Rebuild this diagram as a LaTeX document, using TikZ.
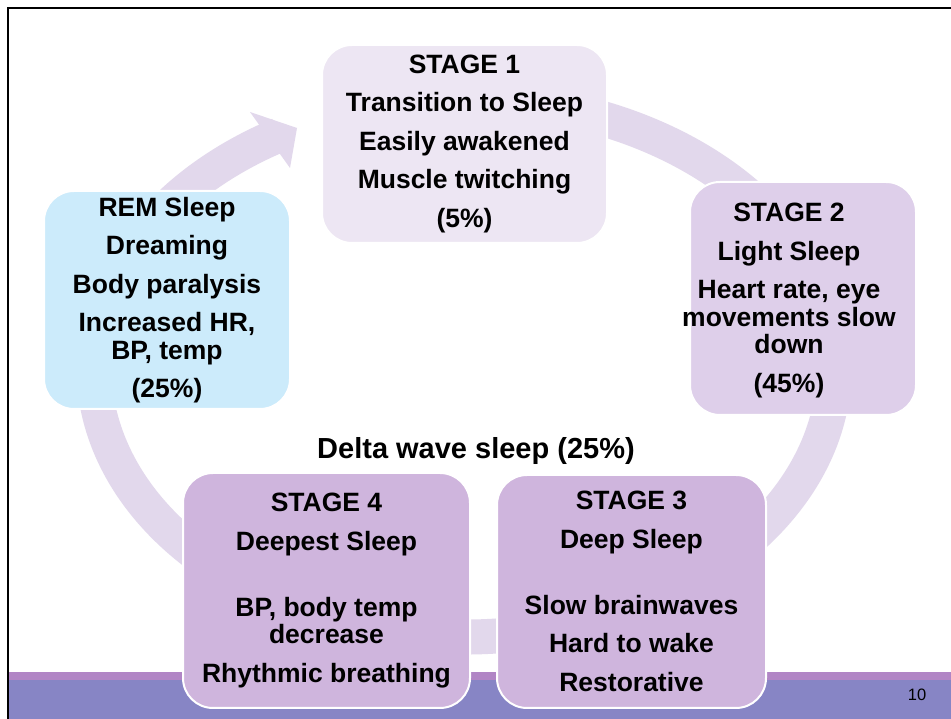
\documentclass[tikz,border=0pt]{standalone}
\usepackage{fontspec}
\setmainfont{Liberation Sans}
\definecolor{ringc}{RGB}{226,216,236}
\definecolor{sonec}{RGB}{237,230,243}
\definecolor{stwoc}{RGB}{222,207,234}
\definecolor{sdeepc}{RGB}{207,181,221}
\definecolor{remc}{RGB}{204,235,251}
\definecolor{barmain}{RGB}{135,133,197}
\definecolor{barstripe}{RGB}{177,133,197}
\begin{document}
\begin{tikzpicture}[x=1pt,y=1pt,
  boxtext/.style={align=center, font=\fontsize{26.5}{27.5}\selectfont\bfseries, inner sep=0pt},
  box/.style={boxtext, draw=white, line width=2pt, rounded corners=30pt}]
\useasboundingbox (0,0) rectangle (951,719);
\fill[white] (0,0) rectangle (951,719);
% cycle ring with arrow
\draw[ringc, line width=35pt] (464,351) ++(105:370 and 269)
  arc[start angle=105, end angle=-240, x radius=370, y radius=269];
\fill[ringc] (297,591) -- (250,607) -- (290,551) -- cycle;
% bottom bar
\fill[barmain] (9,0) rectangle (951,39);
\fill[barstripe] (9,39) rectangle (951,47);
% slide border
\draw[black, line width=2.5pt] (8,0) -- (8,711) -- (951,711);
% boxes
\node[box, fill=sonec, minimum width=285pt, minimum height=198pt] (s1) at (464.5,575)
  {STAGE 1\\[11pt]Transition to Sleep\\[11pt]Easily awakened\\[11pt]Muscle twitching\\[11pt](5\%)};
\node[box, fill=stwoc, minimum width=226pt, minimum height=233pt] (s2) at (803,420.5) {};
\node[boxtext] (s2t) at (789,418.5)
  {STAGE 2\\[11pt]Light Sleep\\[11pt]Heart rate, eye\\movements slow\\down\\[11pt](45\%)};
\node[box, fill=sdeepc, minimum width=269pt, minimum height=233pt] (s3) at (631.5,127.5)
  {STAGE 3\\[11pt]Deep Sleep\\[38.5pt]Slow brainwaves\\[11pt]Hard to wake\\[11pt]Restorative};
\node[box, fill=sdeepc, minimum width=287pt, minimum height=235pt] (s4) at (326.5,128.5)
  {STAGE 4\\[11pt]Deepest Sleep\\[38.5pt]BP, body temp\\decrease\\[11pt]Rhythmic breathing};
\node[box, fill=remc, minimum width=246pt, minimum height=218pt] (rem) at (167,419)
  {REM Sleep\\[11pt]Dreaming\\[11pt]Body paralysis\\[11pt]Increased HR,\\BP, temp\\[11pt](25\%)};
\node[font=\fontsize{29}{31}\selectfont\bfseries] (delta) at (476,268) {Delta wave sleep (25\%)};
\node[font=\fontsize{16.5}{18}\selectfont] (pg) at (917,24) {10};
\end{tikzpicture}
\end{document}
